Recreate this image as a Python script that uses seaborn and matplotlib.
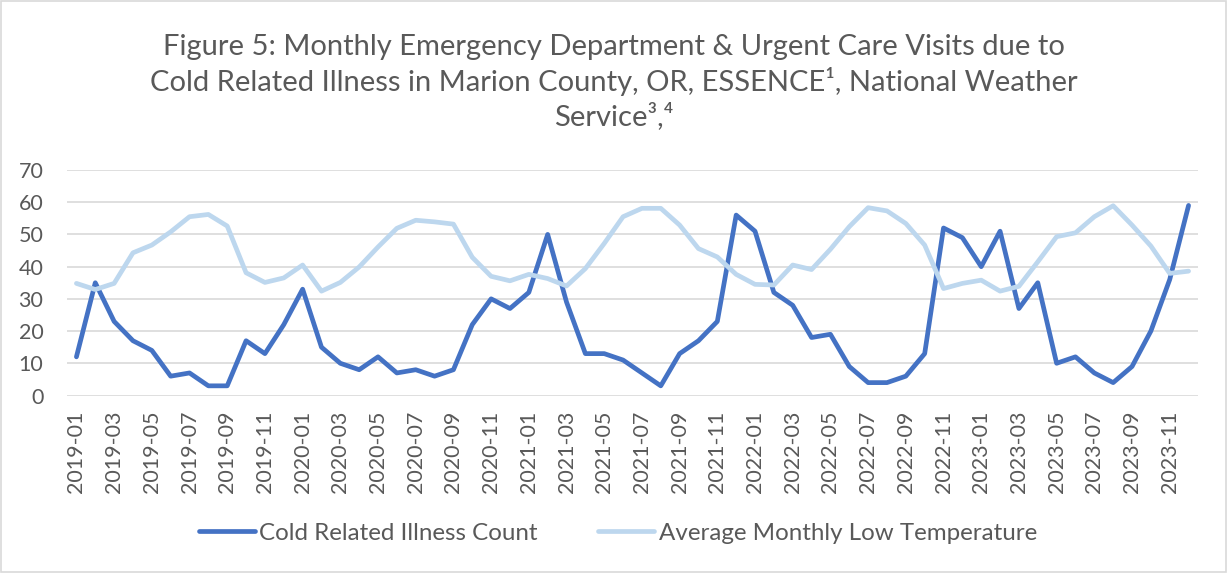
import pandas as pd
import matplotlib
matplotlib.use('Agg')
import matplotlib.pyplot as plt
import seaborn as sns
from matplotlib.patches import Rectangle

months = [f'{y}-{m:02d}' for y in range(2019, 2024) for m in range(1, 13)]

cold_count = [12, 35, 23, 17, 14, 6, 7, 3, 3, 17, 13, 22,
              33, 15, 10, 8, 12, 7, 8, 6, 8, 22, 30, 27,
              32, 50, 29, 13, 13, 11, 7, 3, 13, 17, 23, 56,
              51, 32, 28, 18, 19, 9, 4, 4, 6, 13, 52, 49,
              40, 51, 27, 35, 10, 12, 7, 4, 9, 20, 36, 59]

low_temp = [34.8, 32.9, 34.8, 44.3, 46.7, 50.8, 55.5, 56.2, 52.6, 38.1, 35.1, 36.5,
            40.5, 32.4, 35.1, 39.9, 46.1, 51.9, 54.4, 53.9, 53.2, 42.9, 37.0, 35.6,
            37.6, 36.3, 34.0, 39.4, 47.2, 55.5, 58.1, 58.1, 52.9, 45.6, 43.0, 37.6,
            34.5, 34.3, 40.5, 39.1, 45.4, 52.4, 58.3, 57.3, 53.4, 46.7, 33.2, 34.8,
            35.8, 32.4, 33.9, 41.5, 49.3, 50.5, 55.5, 58.9, 52.9, 46.4, 37.9, 38.6]

series_names = ['Cold Related Illness Count', 'Average Monthly Low Temperature']
colors = ['#4472C4', '#BDD7EE']

df = pd.DataFrame({
    'month': months * 2,
    'idx': list(range(len(months))) * 2,
    'value': cold_count + low_temp,
    'series': [series_names[0]] * len(months) + [series_names[1]] * len(months),
})

sns.set_theme(style='white')
plt.rcParams['font.family'] = ['Lato', 'DejaVu Sans']
grey = '#595959'

fig = plt.figure(figsize=(12.28, 5.73), dpi=100)
ax = fig.add_axes([67 / 1228, (573 - 395.5) / 573, (1198 - 67) / 1228, (395.5 - 170) / 573])

sns.lineplot(data=df, x='idx', y='value', hue='series', hue_order=series_names,
             palette=colors, linewidth=3.4, ax=ax, legend=False, zorder=3)

ax.set_xlim(-0.5, len(months) - 0.5)
ax.set_ylim(0, 70)
ax.set_yticks(range(0, 71, 10))
ax.set_xticks(range(0, len(months), 2))
ax.set_xticklabels(months[::2], rotation=90)
ax.grid(axis='y', color='#D9D9D9', linewidth=1.2)
ax.grid(axis='x', visible=False)
for s in ax.spines.values():
    s.set_visible(False)
ax.tick_params(axis='both', length=0, labelsize=15.5, colors=grey)
ax.tick_params(axis='y', pad=17)
ax.tick_params(axis='x', pad=11)
ax.set_xlabel('')
ax.set_ylabel('')

title = ('Figure 5: Monthly Emergency Department & Urgent Care Visits due to\n'
         'Cold Related Illness in Marion County, OR, ESSENCE\u00b9, National Weather\n'
         'Service\u00b3\u02d2\u2074')
title = title.replace('\u02d2', ',')
fig.text(0.5, 1 - 82 / 573, title, ha='center', va='center', fontsize=21,
         color=grey, linespacing=1.27)

handles = [plt.Line2D([], [], color=c, linewidth=3.4) for c in colors]
fig.legend(handles, series_names, loc='center', bbox_to_anchor=(618 / 1228, 40 / 573),
           ncol=2, frameon=False, fontsize=17.4, handlelength=2.3, handletextpad=0.2,
           columnspacing=2.5, labelcolor=grey)

fig.patches.append(Rectangle((0.001, 0.002), 0.997, 0.996, transform=fig.transFigure,
                             fill=False, edgecolor='#D9D9D9', linewidth=1.2))

fig.savefig('out.png', dpi=100)
